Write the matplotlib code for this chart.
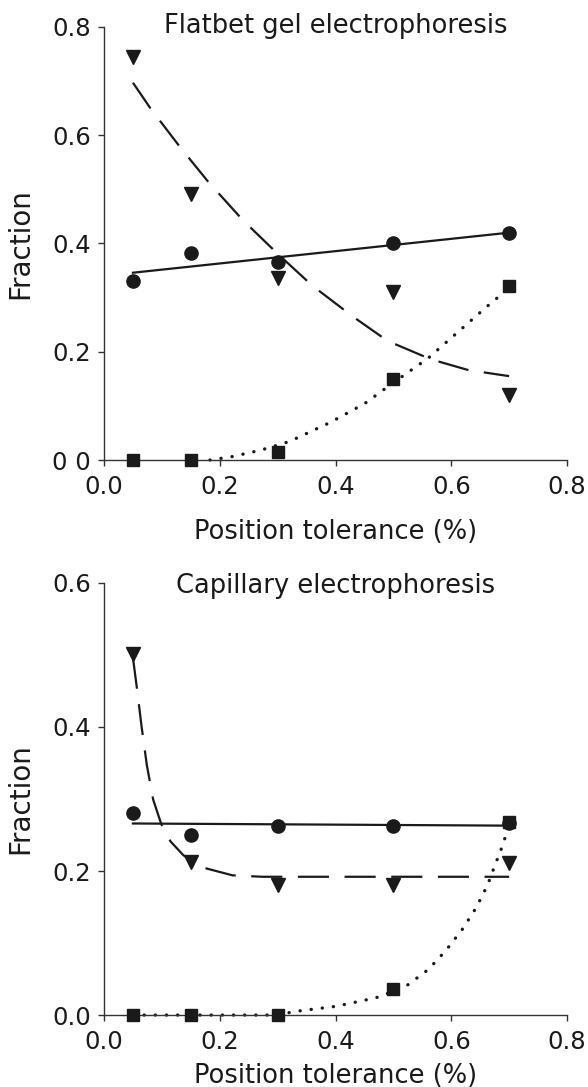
import matplotlib
matplotlib.use("Agg")
import matplotlib.pyplot as plt

plt.rcParams['font.family'] = ['DejaVu Sans']

# ---- data ----
x_pts = [0.05, 0.15, 0.3, 0.5, 0.7]

top_circle = [0.330, 0.383, 0.365, 0.401, 0.420]
top_triangle = [0.745, 0.492, 0.337, 0.311, 0.120]
top_square = [0.0, 0.0, 0.015, 0.150, 0.322]

bot_circle = [0.280, 0.250, 0.263, 0.263, 0.267]
bot_triangle = [0.501, 0.212, 0.181, 0.181, 0.211]
bot_square = [0.0, 0.0, 0.0, 0.036, 0.268]

# fitted curves
top_solid_x = [0.05, 0.70]
top_solid_y = [0.346, 0.420]
top_dash_x = [0.05, 0.08, 0.13, 0.18, 0.24, 0.30, 0.36, 0.43, 0.49, 0.565, 0.63, 0.70]
top_dash_y = [0.697, 0.650, 0.580, 0.514, 0.443, 0.381, 0.322, 0.265, 0.220, 0.186, 0.166, 0.155]
top_dot_x = [0.183, 0.22, 0.27, 0.32, 0.39, 0.45, 0.50, 0.56, 0.61, 0.66, 0.70]
top_dot_y = [0.0, 0.006, 0.018, 0.034, 0.069, 0.104, 0.143, 0.188, 0.235, 0.282, 0.318]

bot_solid_x = [0.05, 0.70]
bot_solid_y = [0.266, 0.263]
bot_dash_x = [0.05, 0.057, 0.065, 0.074, 0.085, 0.099, 0.115, 0.137, 0.170, 0.222, 0.274, 0.70]
bot_dash_y = [0.496, 0.453, 0.400, 0.347, 0.299, 0.265, 0.241, 0.222, 0.205, 0.194, 0.192, 0.192]
bot_dot_x = [0.05, 0.30, 0.33, 0.40, 0.47, 0.52, 0.56, 0.59, 0.62, 0.643, 0.663, 0.675, 0.689, 0.70]
bot_dot_y = [0.0, 0.0, 0.005, 0.012, 0.024, 0.039, 0.063, 0.089, 0.120, 0.149, 0.181, 0.207, 0.236, 0.265]

x_ticks = [0.0, 0.2, 0.4, 0.6, 0.8]
x_ticklabels = ['0.0', '0.2', '0.4', '0.6', '0.8']
top_yticks = [0.0, 0.2, 0.4, 0.6, 0.8]
top_yticklabels = ['0 0', '0.2', '0.4', '0.6', '0.8']
bot_yticks = [0.0, 0.2, 0.4, 0.6]
bot_yticklabels = ['0.0', '0.2', '0.4', '0.6']

titles = ['Flatbet gel electrophoresis', 'Capillary electrophoresis']
xlabel = 'Position tolerance (%)'
ylabel = 'Fraction'

FS_TICK = 17.5
FS_TEXT = 18.5
FS_Y = 20
C = '#1a1a1a'

fig = plt.figure(figsize=(5.88, 10.87), dpi=100)
ax1 = fig.add_axes([0.1769, 0.5768, 0.7874, 0.3984])
ax2 = fig.add_axes([0.1769, 0.0662, 0.7874, 0.3975])

panels = [
    (ax1, top_circle, top_triangle, top_square, (top_solid_x, top_solid_y),
     (top_dash_x, top_dash_y), (top_dot_x, top_dot_y), 0.8, top_yticks, top_yticklabels,
     0.986, -0.137),
    (ax2, bot_circle, bot_triangle, bot_square, (bot_solid_x, bot_solid_y),
     (bot_dash_x, bot_dash_y), (bot_dot_x, bot_dot_y), 0.6, bot_yticks, bot_yticklabels,
     0.977, -0.110),
]

for i, (ax, circ, tri, sq, sol, dash, dot, ymax, yt, ytl, ty, xly) in enumerate(panels):
    ax.plot(sol[0], sol[1], '-', color=C, lw=1.6, clip_on=False)
    ax.plot(dash[0], dash[1], color=C, lw=1.6, dashes=(14, 7), clip_on=False)
    ax.plot(dot[0], dot[1], color=C, lw=2.4, linestyle=(0, (0.05, 3.3)),
            dash_capstyle='round', solid_capstyle='round', clip_on=False)
    ax.plot(x_pts, circ, 'o', color=C, ms=9.5, clip_on=False, zorder=5)
    ax.plot(x_pts, tri, 'v', color=C, ms=10, clip_on=False, zorder=5)
    ax.plot(x_pts, sq, 's', color=C, ms=8, clip_on=False, zorder=5)

    ax.set_xlim(0, 0.8)
    ax.set_ylim(0, ymax)
    ax.set_xticks(x_ticks)
    ax.set_xticklabels(x_ticklabels)
    ax.set_yticks(yt)
    ax.set_yticklabels(ytl)
    for s in ['top', 'right']:
        ax.spines[s].set_visible(False)
    for s in ['left', 'bottom']:
        ax.spines[s].set_linewidth(1.0)
        ax.spines[s].set_color('#333333')
    ax.tick_params(direction='out', length=4.5, width=1.0, color='#333333',
                   labelsize=FS_TICK, labelcolor=C)
    ax.tick_params(axis='y', pad=5)
    ax.tick_params(axis='x', pad=6)
    ax.set_xlabel(xlabel, fontsize=FS_TEXT, color=C)
    ax.set_ylabel(ylabel, fontsize=FS_Y, color=C)
    ax.xaxis.set_label_coords(0.5, xly)
    ax.yaxis.set_label_coords(-0.150, 0.5)
    ax.text(0.5, ty, titles[i], transform=ax.transAxes, ha='center',
            va='baseline', fontsize=FS_TEXT, color=C)

fig.savefig('out.png', dpi=100)
